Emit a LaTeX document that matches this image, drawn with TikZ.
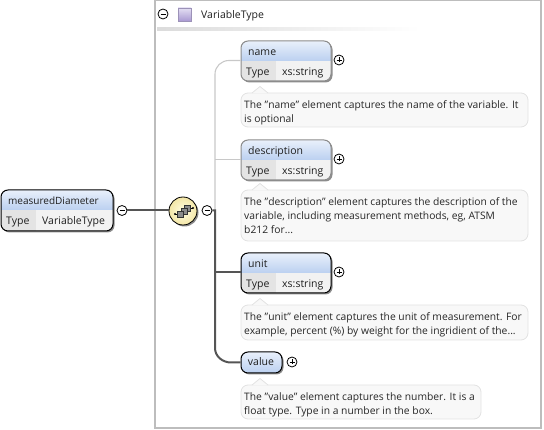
\documentclass[tikz,border=0pt]{standalone}
\usepackage{fontspec}
\setmainfont{Open Sans}
\usetikzlibrary{shadows,calc}
\definecolor{lineGrey}{HTML}{555555}
\definecolor{lightLine}{HTML}{C8C8C8}
\definecolor{frameGrey}{HTML}{BDBDBD}
\definecolor{noteFill}{HTML}{F8F8F8}
\definecolor{noteEdge}{HTML}{E2E2E2}
\definecolor{headTop}{HTML}{E9F0FB}
\definecolor{headBot}{HTML}{BBD0F0}
\definecolor{typeL}{HTML}{E4E4E4}
\definecolor{typeR}{HTML}{F2F2F2}
\definecolor{iconTop}{HTML}{E4DFF3}
\definecolor{iconBot}{HTML}{A999D2}
\definecolor{iconEdge}{HTML}{9C92B8}
\definecolor{seqIn}{HTML}{FFFDE2}
\definecolor{seqOut}{HTML}{F3E6A6}
\newcommand{\qt}{\char34 }
\tikzset{
  x=1pt,y=-1pt,
  every node/.style={font=\fontsize{10.5}{14}\selectfont,text=black!88,inner sep=0pt},
  boxshadow/.style={general shadow={fill=black!45,shadow xshift=1.5pt,shadow yshift=-1.5pt}},
  labeltext/.style={anchor=base west},
  toggle/.style={circle,draw=black,line width=.8pt,fill=white,minimum size=10pt},
  heavy/.style={draw=lineGrey,line width=2pt},
  faint/.style={draw=lightLine,line width=1.1pt},
  notebox/.style={draw=noteEdge,fill=noteFill,line width=.8pt,rounded corners=7pt},
  notetext/.style={anchor=north west,align=left,font=\fontsize{10.3}{14}\selectfont,text=black!85},
}
\newcommand{\typedbox}[9]{%
  \path[boxshadow,fill=white,rounded corners=7pt] (#2,#3) rectangle (#4,#5);
  \begin{scope}
    \clip[rounded corners=7pt] (#2,#3) rectangle (#4,#5);
    \fill[top color=headTop,bottom color=headBot] (#2,#3) rectangle (#4,#3+20);
    \fill[typeL] (#2,#3+20) rectangle (#8,#5);
    \fill[typeR] (#8,#3+20) rectangle (#4,#5);
  \end{scope}
  \node[draw=#7,line width=1pt,rounded corners=7pt,minimum width=#4-#2,minimum height=#5-#3] (#1) at ({(#2+#4)/2},{(#3+#5)/2}) {};
  \node[labeltext] (#1Title) at (#2+7,#3+14.7) {#6};
  \node[labeltext] (#1Key) at (#2+5,#3+34.7) {Type};
  \node[labeltext] (#1Val) at (#8+6,#3+34.7) {#9};
}
\newcommand{\docnote}[6]{%
  \path[notebox] (#2,#3) rectangle (#4,#5);
  \fill[noteFill] (#2+11,#3+.5) -- (#2+19,#3-6.5) -- (#2+27,#3+.5) -- cycle;
  \draw[noteEdge,line width=.8pt] (#2+11,#3) -- (#2+19,#3-6.5) -- (#2+27,#3);
  \node[notetext] (#1) at (#2+3,#3+7) {#6};
}
\begin{document}
\begin{tikzpicture}
\useasboundingbox (0,0) rectangle (544,430);
\draw[frameGrey,line width=1.8pt] (155,0.5) -- (155,428) -- (541,428) -- (541,0.5) -- cycle;
\shade[left color=black!14,right color=white] (157,28) rectangle (420,30.5);
\node[toggle] (typeToggle) at (163,14) {};
\draw[black,line width=.8pt] (160.5,14) -- (165.5,14);
\node[draw=iconEdge,line width=.8pt,top color=iconTop,bottom color=iconBot,minimum size=13pt] (typeIcon) at (184.5,14.5) {};
\node[labeltext] (typeName) at (201,18.5) {VariableType};
\typedbox{root}{1}{190}{113}{231}{\fontsize{10}{14}\selectfont measuredDiameter}{black}{36}{VariableType}
\typedbox{nameEl}{241}{41}{331}{81}{name}{black!45}{276}{xs:string}
\docnote{nameNote}{241}{93}{528}{127}{The \qt name\qt{} element captures the name of the variable. It\\is optional}
\typedbox{descEl}{241}{140}{331}{180}{description}{black!45}{276}{xs:string}
\docnote{descNote}{241}{190}{528}{241}{The \qt description\qt{} element captures the description of the\\variable, including measurement methods, eg, ATSM\\b212 for...}
\typedbox{unitEl}{241}{253}{331}{293}{unit}{black}{276}{xs:string}
\docnote{unitNote}{241}{305}{528}{340}{The \qt unit\qt{} element captures the unit of measurement. For\\example, percent (\%) by weight for the ingridient of the...}
\path[boxshadow,fill=white,rounded corners=7pt] (241,352) rectangle (282,373);
\node[draw=black,line width=1pt,rounded corners=7pt,minimum width=41pt,minimum height=21pt,top color=headTop,bottom color=headBot] (valueEl) at (261.5,362.5) {};
\node[anchor=base] (valueTitle) at (261,366) {value};
\docnote{valueNote}{241}{385}{481}{419}{The \qt value\qt{} element captures the number. It is a\\float type. Type in a number in the box.}
\node[circle,draw=black,line width=.8pt,inner color=seqIn,outer color=seqOut,minimum size=28pt,boxshadow] (seq) at (183,211) {};
\draw[black,line width=.8pt] (175,214) -- (180,214);
\draw[black,line width=.8pt] (187,208) -- (193,208);
\fill[black] (175,214) circle (1.2);
\fill[black] (193,208) circle (1.2);
\foreach \dx/\dy/\nm in {4/-3/c,0.5/0/b,-3/3/a}{
  \node[draw=black!80,fill=black!45,line width=.6pt,minimum size=6pt] (seq\nm) at (183.5+\dx,211+\dy) {};
}
\node[toggle] (rootToggle) at (122,210.5) {};
\node[toggle] (seqToggle) at (207,210.5) {};
\node[toggle] (namePlus) at (339,60) {};
\node[toggle] (descPlus) at (339,159) {};
\node[toggle] (unitPlus) at (339,272) {};
\node[toggle] (valuePlus) at (292,362) {};
\foreach \n in {rootToggle,seqToggle,namePlus,descPlus,unitPlus,valuePlus}
  \draw[black,line width=.8pt] ($(\n)+(-2.5,0)$) -- ($(\n)+(2.5,0)$);
\foreach \n in {namePlus,descPlus,unitPlus,valuePlus}
  \draw[black,line width=.8pt] ($(\n)+(0,-2.5)$) -- ($(\n)+(0,2.5)$);
\coordinate (trunkTop) at (215,210.5);
\draw[heavy] (rootToggle.east) -- (rootToggle.east -| seq.west);
\draw[faint] (nameEl.west |- 0,60.5) -- (229,60.5) to[out=180,in=90] (215,74) -- (215,210);
\draw[faint] (descEl.west |- 0,159.5) -- (215,159.5);
\draw[heavy] (seqToggle.east) -- (trunkTop) -- (215,348) to[out=-90,in=180] (231,362.5) -- (valueEl.west);
\draw[heavy] (215,272.5) -- (unitEl.west |- 0,272.5);
\end{tikzpicture}
\end{document}
